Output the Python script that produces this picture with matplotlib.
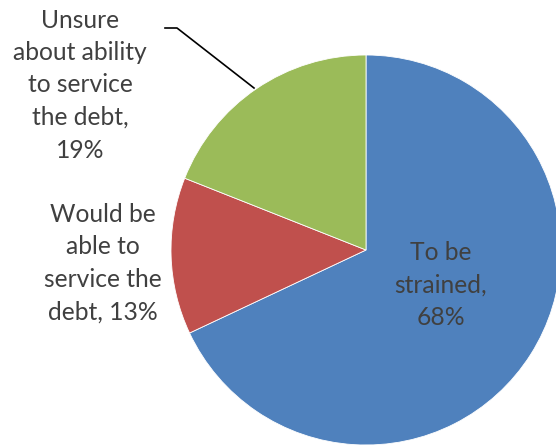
import matplotlib.pyplot as plt

labels = ["To be\nstrained,\n68%", "Would be\nable to\nservice the\ndebt, 13%", "Unsure\nabout ability\nto service\nthe debt,\n19%"]
values = [68, 13, 19]
colors = ["#4f81bd", "#c0504d", "#9bbb59"]

plt.rcParams['font.family'] = ['Lato', 'DejaVu Sans']

fig = plt.figure(figsize=(5.56, 4.45), dpi=100)
ax = fig.add_axes([0, 0, 1, 1])

# pie in pixel coords (y up)
ax.pie(values, colors=colors, startangle=90, counterclock=False,
       center=(366, 195), radius=195, frame=True,
       wedgeprops=dict(linewidth=0.6, edgecolor='white'))
ax.set_xlim(0, 556)
ax.set_ylim(0, 445)
ax.set_aspect('equal')
ax.axis('off')

txt = dict(ha='center', va='center', fontsize=17.7, color='#404040', linespacing=1.5)
ax.text(441, 160, labels[0], **txt)
ax.text(103, 182, labels[1], **txt)
ax.text(80, 360, labels[2], **txt)

# leader line for the green label
ax.plot([165, 177, 254], [417, 417, 357], color='black', lw=1.2)

fig.savefig("out.png", dpi=100)
